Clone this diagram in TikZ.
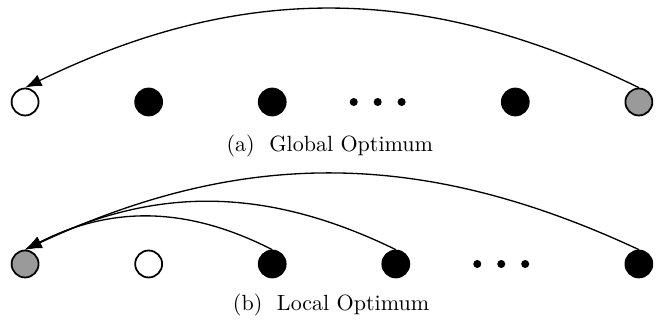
\documentclass[tikz,border=0pt]{standalone}
\usepackage{tikz}
\usetikzlibrary{arrows.meta, positioning}
\definecolor{CurGray}{HTML}{9A9A9A}

\begin{document}
\begin{tikzpicture}[
    node distance = 1.513cm,
    % Style for the solution circles
    sol/.style = {circle, draw, thick, minimum size=0.43cm, inner sep=0pt},
    best/.style = {sol, fill=white},
    cur/.style = {sol, fill=CurGray},
    other/.style = {sol, fill=black},
    % Style for the small dots
    dotmark/.style = {circle, fill=black, minimum size=0.128cm, inner sep=0pt},
    capt/.style = {font=\normalsize},
    arr/.style = {-{Latex[length=7.5pt, width=5.5pt]}, line width=0.6pt},
]
\useasboundingbox (0,0) rectangle (10.48,5.104);

% --- (a) Global Optimum ---
\node[best] (a1) at (0.40,3.477) {};
\node[other, right=of a1] (a2) {};
\node[other, right=of a2] (a3) {};
\node[dotmark, right=1.0cm of a3] (ad1) {};
\node[dotmark, right=0.24cm of ad1] (ad2) {};
\node[dotmark, right=0.24cm of ad2] (ad3) {};
\node[other, right=of ad3] (a4) {};
\node[cur, right=of a4] (a5) {};
\node[capt] (capa) at (5.26,2.775) {(a)~ Global Optimum};

\draw[arr] (a5.north) to[bend right=26] (a1.north);

% --- (b) Local Optimum ---
\node[cur] (b1) at (0.40,0.893) {};
\node[best, right=of b1] (b2) {};
\node[other, right=of b2] (b3) {};
\node[other, right=of b3] (b4) {};
\node[dotmark, right=1.0cm of b4] (bd1) {};
\node[dotmark, right=0.24cm of bd1] (bd2) {};
\node[dotmark, right=0.24cm of bd2] (bd3) {};
\node[other, right=of bd3] (b5) {};
\node[capt] (capb) at (5.28,0.24) {(b)~ Local Optimum};

\draw[arr] (b3.north) to[bend right=27] (b1.north);
\draw[arr] (b4.north) to[bend right=26] (b1.north);
\draw[arr] (b5.north) to[bend right=25] (b1.north);

\end{tikzpicture}
\end{document}
